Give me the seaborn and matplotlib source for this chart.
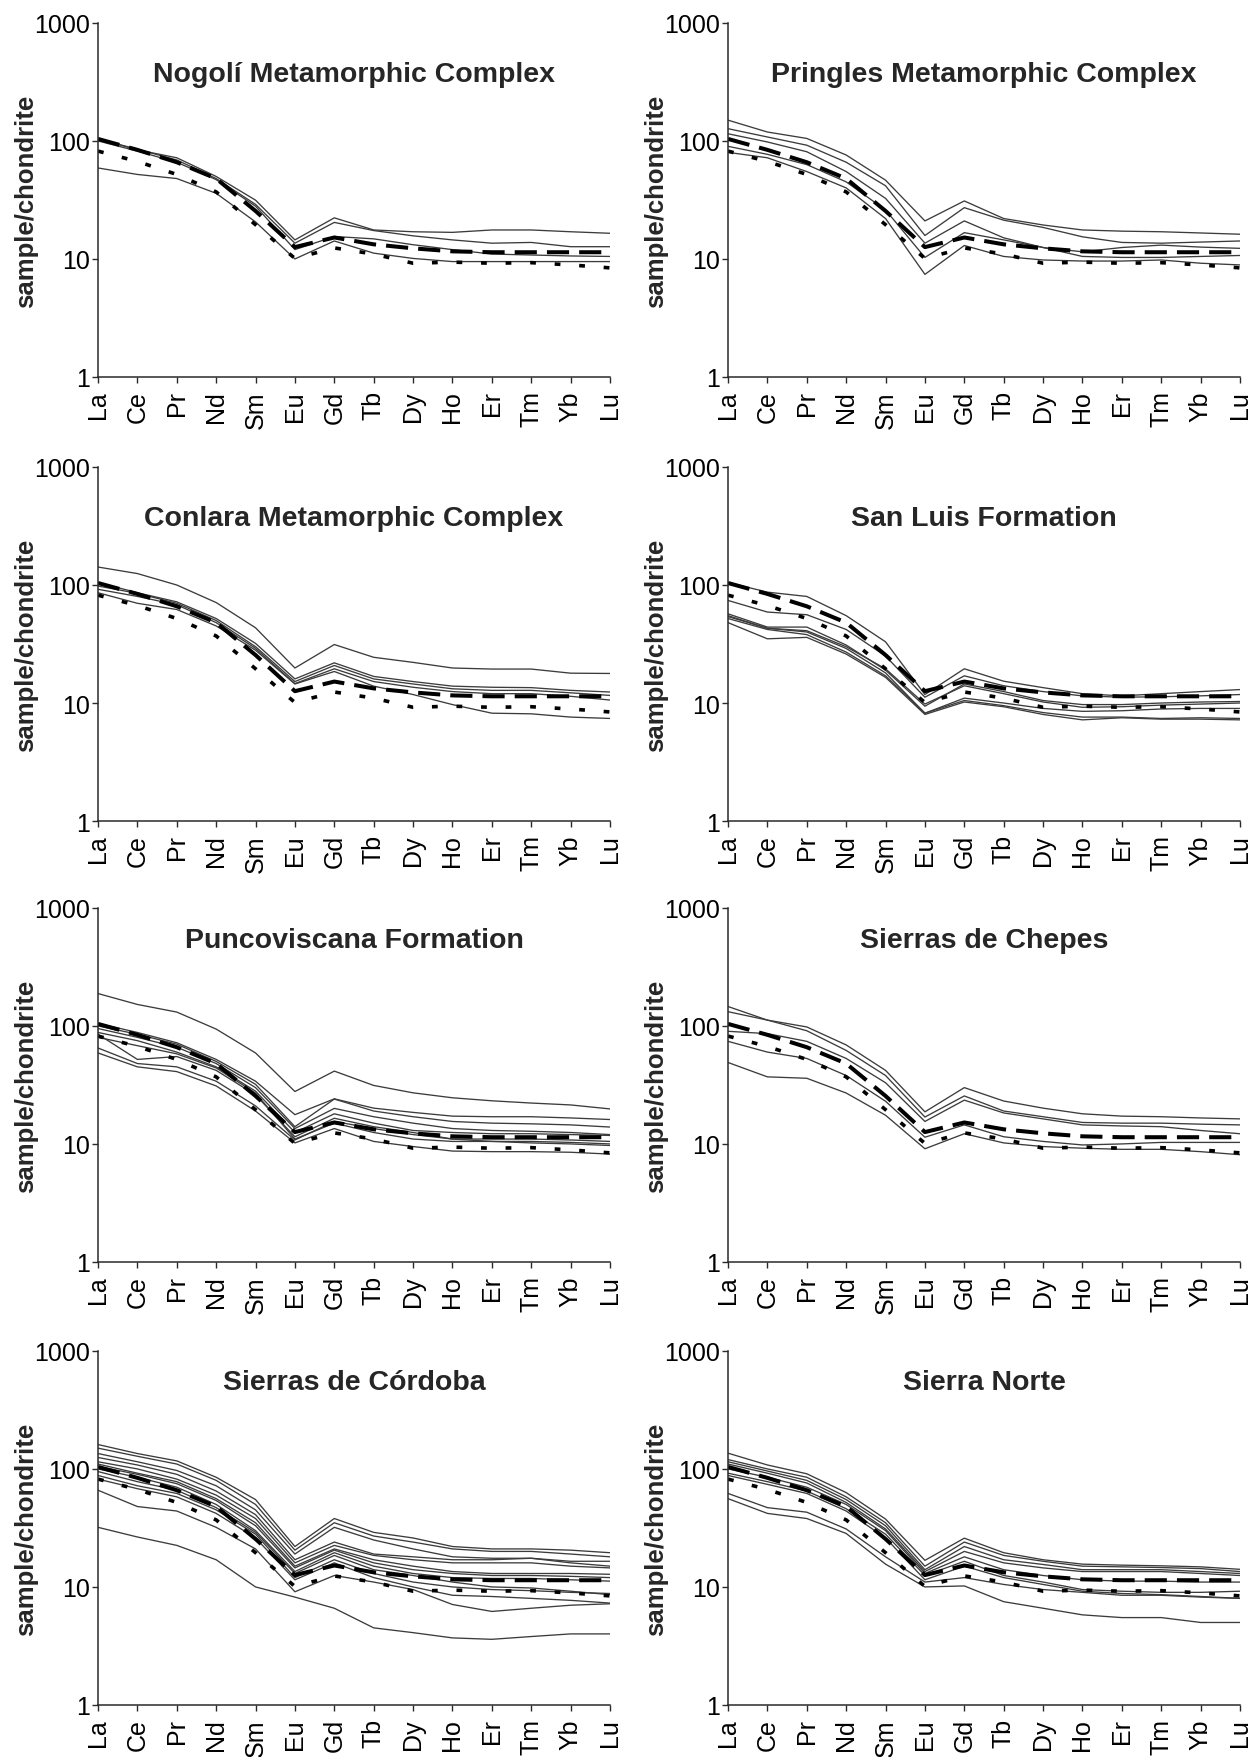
import matplotlib
matplotlib.use("Agg")
import matplotlib.pyplot as plt
from matplotlib.ticker import NullLocator
import pandas as pd
import seaborn as sns

# Chondrite-normalised REE patterns
ELEMENTS = ["La", "Ce", "Pr", "Nd", "Sm", "Eu", "Gd", "Tb", "Dy", "Ho", "Er", "Tm", "Yb", "Lu"]

# Reference compositions (chondrite normalised)
PAAS_CN = [104, 84, 66, 48, 25.5, 12.6, 15.2, 13.3, 12.3, 11.6, 11.4, 11.4, 11.4, 11.4]
UCC_CN = [82, 67, 52, 37, 19.5, 10.1, 12.4, 11.0, 9.2, 9.4, 9.2, 9.3, 8.9, 8.4]

NOGOLI = [
    [104, 84, 72, 50, 31.5, 14.5, 22.3, 17.6, 17.0, 16.8, 17.6, 17.6, 17.0, 16.5],
    [104, 85, 69, 48, 29, 13.6, 20.4, 17.4, 15.7, 14.5, 13.6, 13.8, 12.7, 12.7],
    [100, 82, 66, 47, 28, 12.0, 15.5, 14.8, 13.2, 12.0, 11.0, 10.8, 10.6, 10.5],
    [59, 52, 48, 36, 20.6, 10.0, 14.2, 11.2, 10.1, 9.5, 9.5, 9.5, 9.5, 9.5],
]

PRINGLES = [
    [150, 119, 105, 76, 46.5, 21, 31, 22, 19.4, 17.6, 17.2, 17.0, 16.6, 16.2],
    [127, 108, 92, 66, 41.7, 15.8, 27.2, 21.3, 18.5, 15.4, 13.8, 13.6, 13.9, 14.2],
    [115, 98, 81, 55, 32.6, 13.6, 21, 15.1, 12.5, 10.5, 10.3, 10.3, 10.5, 10.7],
    [90, 77, 63, 45, 26, 10.3, 16.7, 14.5, 12.5, 11.5, 12.5, 13.1, 12.6, 12.3],
    [80, 72, 55, 40, 22, 7.4, 13, 10.5, 9.8, 9.6, 9.6, 9.8, 9.2, 8.9],
]

CONLARA = [
    [142, 125, 100, 71, 43.4, 19.8, 31.3, 24.4, 22.1, 19.8, 19.4, 19.4, 17.9, 17.8],
    [105, 86, 72, 52, 32, 16.0, 21.9, 16.8, 15.2, 13.9, 13.6, 13.5, 12.8, 12.4],
    [98, 85, 70, 50, 30, 15.2, 20.8, 16.0, 14.5, 13.2, 12.8, 12.8, 12.2, 11.6],
    [92, 80, 68, 48, 29, 14.6, 19.5, 15.2, 13.6, 12.5, 12.0, 12.0, 11.4, 10.6],
    [86, 70, 62, 45, 28, 14.5, 18.5, 13.9, 11.8, 9.7, 8.2, 8.1, 7.6, 7.4],
]

SAN_LUIS = [
    [105, 87, 80, 55, 33, 11.8, 19.5, 15.3, 13.5, 12.0, 11.5, 12.0, 12.5, 13.0],
    [74, 59, 56, 42, 25, 11.2, 17, 14, 12.5, 11.5, 11.2, 11.3, 11.5, 11.8],
    [57, 44, 44, 31, 19, 9.4, 14.5, 12.5, 10.5, 9.7, 9.7, 10.0, 10.2, 10.3],
    [55, 43, 41, 30, 19.5, 9.8, 14, 12, 10.2, 9.2, 9.3, 9.6, 9.8, 10.0],
    [54, 43, 40, 29, 18, 8.2, 11, 10, 9.0, 8.5, 8.6, 8.9, 9.0, 9.0],
    [52, 42, 38, 27, 17, 8.2, 10.5, 9.5, 8.3, 7.6, 7.6, 7.4, 7.5, 7.4],
    [48, 35, 36, 26, 16.5, 8.0, 10.2, 9.3, 8.0, 7.2, 7.5, 7.3, 7.3, 7.2],
]

PUNCOVISCANA = [
    [188, 152, 131, 94, 59, 27.8, 41.4, 31.3, 27.1, 24.6, 23.2, 22.2, 21.4, 19.8],
    [105, 88, 72, 52, 34, 17.7, 24.1, 20.1, 18.5, 17.2, 17.0, 17.0, 16.6, 16.1],
    [100, 85, 70, 50, 32, 14, 24, 19, 17, 15.5, 15, 14.8, 14.5, 13.9],
    [95, 80, 66, 48, 30, 13.5, 20, 17, 15, 13.5, 13, 12.8, 12.5, 12],
    [88, 75, 60, 45, 28, 12.5, 18, 15, 13, 12.5, 12.2, 12.2, 12, 11.8],
    [85, 52, 55, 42, 26, 11.5, 16.5, 14, 12.5, 11, 11, 11, 10.8, 10.5],
    [80, 68, 58, 44, 27, 11, 15, 12.5, 11, 10.5, 10.5, 10.5, 10.3, 10],
    [65, 48, 45, 34, 21, 10.8, 15.5, 13.5, 12, 11, 10.5, 10.2, 10, 9.7],
    [59, 45, 41, 31, 19, 10.2, 13.5, 10.5, 9.5, 8.7, 8.6, 8.6, 8.5, 8.2],
]

CHEPES = [
    [146, 112, 98, 69, 42, 18.7, 30, 23.1, 20.1, 18, 17.2, 17, 16.6, 16.3],
    [132, 112, 91, 62, 38, 16.9, 25.5, 19, 17, 15.2, 15, 15, 14.7, 14.5],
    [90, 86, 74, 53, 33, 15.5, 23.5, 18.3, 16.3, 14.5, 14.2, 14, 13, 12.2],
    [74, 60, 53, 38, 23, 11.4, 14.5, 11.5, 10.5, 9.8, 10, 10.3, 10.3, 10.3],
    [49, 37, 36, 27, 17.5, 9.1, 12.2, 10.2, 9.5, 9.2, 9.0, 9.0, 8.6, 8.1],
]

CORDOBA = [
    [161, 135, 117, 85, 55, 22, 38, 29, 26, 22, 21, 21, 20.5, 19.5],
    [150, 128, 110, 80, 50, 20.5, 35, 27, 24, 21, 20, 20, 19, 18],
    [135, 115, 97, 72, 45, 19, 32, 25, 21, 18, 17.5, 17.5, 16.5, 16.5],
    [125, 108, 90, 65, 41, 17, 24, 19, 18, 17, 17, 17.5, 16, 15],
    [115, 100, 82, 60, 38, 16, 22.5, 18.5, 17, 16, 16, 16, 15, 14.5],
    [110, 92, 78, 56, 35, 15, 21, 17, 15, 13.5, 13, 13, 13, 12.8],
    [105, 90, 75, 54, 33, 14.5, 20.5, 16, 14, 13, 12.5, 12.5, 12.3, 12],
    [100, 85, 70, 50, 30, 13.5, 19.5, 15, 13, 12, 11.8, 11.8, 11.5, 11.2],
    [95, 78, 66, 47, 29, 13, 18.5, 14, 12.5, 11, 10, 9.8, 9.2, 8.6],
    [88, 72, 62, 45, 28, 12, 17, 13, 11, 10, 9.5, 9.3, 9.0, 8.8],
    [82, 68, 58, 42, 26, 11.5, 16, 12, 10, 8.5, 8.3, 8.0, 7.7, 7.3],
    [66, 48, 44, 32, 21, 9.1, 12.5, 11, 9.5, 7.1, 6.2, 6.6, 7.0, 7.2],
    [32, 26.5, 22.5, 17, 10, 8.2, 6.6, 4.5, 4.1, 3.7, 3.6, 3.8, 4.0, 4.0],
]

SIERRA_NORTE = [
    [136, 108, 91, 63, 37.6, 16.8, 25.9, 19.5, 17, 15.6, 15.3, 15.1, 14.8, 14.1],
    [120, 100, 85, 58, 35, 15, 24, 18.5, 16.5, 15, 14.8, 14.6, 14.3, 13.5],
    [115, 96, 80, 55, 33, 14, 22, 17, 15.5, 14, 14, 14, 13.5, 13],
    [110, 92, 76, 52, 31, 13.5, 20, 16, 14.5, 13.5, 13.5, 13.5, 13, 12.5],
    [100, 85, 70, 50, 30, 13, 18, 14, 12.5, 11.5, 11.2, 11.2, 11, 11],
    [92, 78, 65, 46, 28, 12.5, 16.5, 12.5, 11, 9.5, 9.2, 9, 9, 9.2],
    [88, 74, 62, 44, 26, 11.5, 15, 12, 10.5, 9.2, 8.8, 8.6, 8.3, 8.0],
    [62, 47, 43, 31, 18, 11, 12, 10.5, 9.5, 9, 8.5, 8.5, 8.2, 8.0],
    [56, 42, 38, 28.4, 15.6, 10, 10.2, 7.5, 6.6, 5.8, 5.5, 5.5, 5.0, 5.0],
]

TITLES = [
    "Nogolí Metamorphic Complex", "Pringles Metamorphic Complex",
    "Conlara Metamorphic Complex", "San Luis Formation",
    "Puncoviscana Formation", "Sierras de Chepes",
    "Sierras de Córdoba", "Sierra Norte",
]
GROUPS = [NOGOLI, PRINGLES, CONLARA, SAN_LUIS, PUNCOVISCANA, CHEPES, CORDOBA, SIERRA_NORTE]

sns.set_style("ticks")
plt.rcParams["font.family"] = ["Liberation Sans", "DejaVu Sans"]

SAMPLE_COLOR = "#3c3c3c"
AXIS_COLOR = "#2a2a2a"

fig = plt.figure(figsize=(12.58, 17.58), dpi=100)
lefts = [0.0779, 0.5787]
bottoms = [0.7850, 0.5324, 0.2816, 0.0296]
width, height = 0.4070, 0.2014
title_y = [0.855, 0.857, 0.910, 0.913]

positions = list(range(len(ELEMENTS)))

for k, (samples, title) in enumerate(zip(GROUPS, TITLES)):
    row, col = divmod(k, 2)
    ax = fig.add_axes([lefts[col], bottoms[row], width, height])

    long = pd.DataFrame(
        [(i, j, v) for i, s in enumerate(samples) for j, v in enumerate(s)],
        columns=["sample", "pos", "value"],
    )
    sns.lineplot(data=long, x="pos", y="value", units="sample", estimator=None,
                 color=SAMPLE_COLOR, linewidth=0.95, ax=ax, legend=False)
    sns.lineplot(x=positions, y=PAAS_CN, color="black", linewidth=2.9,
                 linestyle=(0, (5.5, 2.5)), ax=ax)
    sns.lineplot(x=positions, y=UCC_CN, color="black", linewidth=2.6,
                 linestyle=(0, (1.6, 5.2)), ax=ax)

    ax.set_yscale("log")
    ax.set_ylim(1, 1000)
    ax.set_xlim(0, len(ELEMENTS) - 1)
    ax.set_yticks([1, 10, 100, 1000])
    ax.set_yticklabels(["1", "10", "100", "1000"])
    ax.yaxis.set_minor_locator(NullLocator())
    ax.set_xticks(positions)
    ax.set_xticklabels(ELEMENTS, rotation=90, ha="center", va="top")

    ax.set_xlabel("")
    ax.set_ylabel("sample/chondrite", fontsize=18.5, fontweight="bold")
    ax.yaxis.set_label_coords(-0.118, 0.5)

    ax.tick_params(axis="both", direction="out", length=4.5, width=1.0,
                   color=AXIS_COLOR, labelsize=18, labelcolor="black")
    ax.tick_params(axis="x", pad=5)
    ax.tick_params(axis="y", pad=1.5)
    sns.despine(ax=ax)
    for side in ("left", "bottom"):
        ax.spines[side].set_color(AXIS_COLOR)
        ax.spines[side].set_linewidth(1.1)

    ax.text(0.5, title_y[row], title, transform=ax.transAxes, ha="center",
            va="center", fontsize=20.5, fontweight="bold")

fig.savefig("out.png", dpi=100)
